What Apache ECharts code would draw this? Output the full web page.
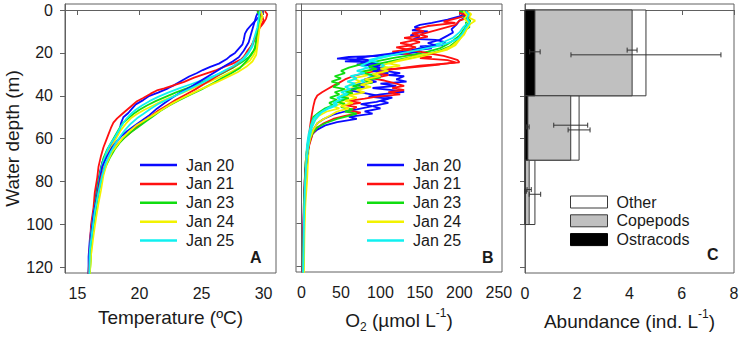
<!DOCTYPE html>
<html>
<head>
<meta charset="utf-8">
<script src="https://cdn.jsdelivr.net/npm/echarts@6/dist/echarts.min.js"></script>
<style>
  html, body { margin: 0; padding: 0; background: #fff; }
  #chart { width: 743px; height: 338px; }
</style>
</head>
<body>
<div id="chart"></div>
<script>
// dates shown in the legends of A and B
const dates = ['Jan 20', 'Jan 21', 'Jan 23', 'Jan 24', 'Jan 25']

// temperature profiles [temperature, depth], two casts per day
const tJan20a = [[29.9,0.5],[29.8,2],[29.5,4],[29.0,7],[28.7,9],[28.5,11],[28.4,14],[28.3,16],[28.0,18],[27.7,20],[27.3,21.5],[27.0,23],[26.4,25],[25.7,26.5],[25.1,28],[24.6,29.5],[24.0,31],[23.4,33],[22.8,35],[22.3,36.5],[21.5,38.5],[20.8,40],[20.3,42],[19.7,44],[19.4,46],[19.1,48],[18.7,50],[18.5,53],[18.4,56],[18.1,59],[17.7,63],[17.3,67],[17.0,71],[16.8,76],[16.6,82],[16.4,90],[16.2,98],[16.0,107],[15.9,115],[15.9,123]]
const tJan20b = [[29.6,0.5],[29.4,3],[29.2,7],[29.0,11],[28.8,15],[28.4,19],[28.0,22],[27.5,24],[26.9,26],[26.2,28.5],[25.5,31],[24.8,33.5],[24.1,36],[23.3,38.5],[22.6,41],[22.0,43.5],[21.4,46],[20.8,49],[20.2,51.5],[19.6,54],[19.0,56.5],[18.6,58.5],[18.2,61],[17.8,64],[17.4,68],[17.0,73],[16.8,79],[16.6,86],[16.3,95],[16.1,105],[15.95,115],[15.9,123]]
const tJan21a = [[30.1,0.5],[30.3,2],[30.2,4],[30.0,6],[29.6,9],[29.3,13],[29.0,17],[28.7,20],[28.2,23],[27.5,25],[26.8,26.5],[26.2,28],[25.4,29.5],[24.4,31.5],[23.6,33.5],[22.8,35],[22.0,36.5],[21.4,37.5],[20.9,39],[20.3,41],[19.8,42.5],[19.4,44.5],[19.0,46.5],[18.6,48.5],[18.2,50.5],[17.9,52.5],[17.7,55],[17.5,58],[17.3,61],[17.1,64],[16.9,68],[16.7,73],[16.6,78],[16.4,85],[16.3,92],[16.1,100],[16.0,110],[15.9,123]]
const tJan21b = [[29.5,0.5],[29.9,3],[30.0,5],[29.7,8],[29.4,12],[29.1,16],[28.7,19],[28.4,22],[28.0,24.5],[27.4,27],[26.6,29.5],[25.9,32],[25.2,34.5],[24.5,37],[23.7,39.5],[22.9,42],[22.2,44.5],[21.5,47],[20.9,49.5],[20.3,52],[19.7,55],[19.2,57.5],[18.8,59.5],[18.3,62],[17.9,65],[17.5,69],[17.2,73],[16.9,78],[16.7,84],[16.5,91],[16.3,99],[16.1,108],[16.0,116],[15.9,123]]
const tJan23a = [[29.6,0.5],[29.8,2],[29.7,5],[29.6,8],[29.5,12],[29.4,16],[29.2,19],[28.8,22],[28.2,24.5],[27.5,27],[26.7,29.5],[25.8,32],[24.9,34],[23.8,36.5],[22.9,38.5],[22.1,40.5],[21.3,42.5],[20.6,44.5],[20.0,46.5],[19.5,48.5],[19.1,50.5],[18.7,52.5],[18.4,55],[18.1,58],[17.8,61],[17.4,65],[17.1,69],[16.9,74],[16.7,80],[16.5,88],[16.3,96],[16.1,105],[16.0,114],[15.95,123]]
const tJan23b = [[29.5,0.5],[29.7,3],[29.6,6],[29.5,10],[29.4,14],[29.3,18],[29.0,21],[28.6,24],[28.1,27],[27.4,29.5],[26.6,32],[25.8,34.5],[25.0,37],[24.1,39.5],[23.2,42],[22.4,44.5],[21.7,47],[21.1,49.5],[20.5,52],[19.9,54.5],[19.3,57],[18.8,59.5],[18.4,62],[18.0,65],[17.6,69],[17.2,74],[16.9,80],[16.6,88],[16.4,96],[16.2,104],[16.1,112],[16.0,123]]
const tJan24a = [[29.7,0.5],[29.8,3],[29.6,6],[29.6,10],[29.5,14],[29.4,18],[29.2,21],[28.9,23.5],[28.3,26],[27.5,28.5],[26.6,31],[25.6,33.5],[24.5,36],[23.5,38.5],[22.6,40.5],[21.8,42.5],[21.1,44.5],[20.4,46.5],[19.8,48.5],[19.3,50.5],[18.9,53],[18.5,56],[18.2,59],[17.9,62],[17.5,66],[17.2,70],[16.9,76],[16.8,82],[16.6,90],[16.4,97],[16.2,105],[16.1,114],[16.0,123]]
const tJan24b = [[29.8,0.5],[29.9,3],[29.7,7],[29.6,12],[29.5,17],[29.4,21],[29.1,24],[28.6,26.5],[27.9,29],[27.0,31.5],[26.1,34],[25.1,36.5],[24.2,39],[23.3,41.5],[22.5,44],[21.8,46.5],[21.1,49],[20.4,51.5],[19.7,54],[19.1,57],[18.6,60],[18.2,63],[17.8,66],[17.4,71],[17.1,77],[16.9,84],[16.7,90],[16.5,97],[16.3,105],[16.1,114],[16.0,123]]
const tJan25a = [[29.6,0.5],[29.9,3],[29.7,6],[29.5,9],[29.3,13],[29.1,17],[28.8,20],[28.4,23],[27.8,25.5],[27.0,28],[26.1,30.5],[25.2,32.5],[24.2,34.5],[23.2,36.5],[22.3,38.5],[21.5,40.5],[20.8,42.5],[20.2,44.5],[19.7,46.5],[19.3,48.5],[18.9,51],[18.6,53.5],[18.3,56.5],[18.0,59.5],[17.6,63],[17.3,67],[17.0,72],[16.8,78],[16.6,86],[16.3,95],[16.1,104],[16.0,113],[15.9,123]]
const tJan25b = [[29.7,0.5],[29.6,4],[29.5,8],[29.3,12],[29.1,16],[28.8,19.5],[28.3,23],[27.6,26],[26.8,28.5],[26.0,31],[25.2,33.5],[24.3,36],[23.4,38.5],[22.5,41],[21.6,43.5],[20.9,46],[20.3,48.5],[19.8,50.5],[19.3,53],[18.9,55.5],[18.5,58.5],[18.1,62],[17.7,66],[17.3,71],[17.0,77],[16.7,85],[16.4,94],[16.2,103],[16.0,112],[15.95,123]]

// oxygen profiles [O2, depth]
const oJan20a = [[205,0.5],[208,1.5],[200,3],[185,4.5],[165,6],[150,7],[143,8],[150,8.5],[140,9.5],[160,10],[145,10.8],[138,12],[150,12.5],[142,13.5],[170,14],[182,15],[178,16.5],[150,17],[165,18],[140,19],[150,19.5],[130,20.5],[100,21.5],[60,22],[45,22.8],[80,23.2],[55,24],[95,24.5],[70,25.5],[100,26],[85,27],[115,27.5],[105,28.5],[125,29.5],[110,30.5],[130,31],[120,32.5],[133,33.5],[100,34.5],[120,35.5],[90,36.5],[115,37.5],[130,38.3],[100,39.5],[85,40.5],[110,41.5],[95,43],[75,44],[90,45],[70,46.5],[55,47.5],[40,49],[28,51],[20,53],[15,56],[11,60],[8,65],[6,70],[4,80],[3,90],[2.5,100],[2,110],[1.5,123]]
const oJan20b = [[210,0.5],[205,2],[208,3.5],[200,5],[196,7],[190,9],[192,10.5],[185,12],[175,14],[160,15.5],[170,16.5],[150,18],[130,19.5],[110,20.5],[90,21.5],[70,22.5],[85,23.5],[75,24.5],[100,25.5],[85,26.5],[105,27.5],[90,28.5],[110,29.5],[95,31],[80,32.5],[95,33.5],[70,35],[80,36],[60,37.5],[75,38.5],[95,40],[115,41],[100,42.5],[110,43.5],[90,45],[100,46],[80,47.5],[90,48.5],[60,50],[70,51],[45,52.5],[30,54],[20,56],[14,58],[10,62],[7,68],[5,75],[4,85],[3,95],[2.5,105],[2,115],[2,123]]
const oJan21a = [[205,0.5],[200,1.5],[210,2.5],[195,4],[180,5.5],[195,6],[160,7.5],[145,9],[155,10],[140,11],[150,12],[130,13],[145,14],[125,15.5],[140,16.5],[120,17.5],[135,18.5],[115,19.5],[140,21],[165,22],[150,22.5],[185,23.5],[195,24.5],[175,25.5],[150,26.5],[120,27.5],[95,28.5],[80,29.5],[65,31],[55,32.5],[48,34],[40,35.5],[33,37],[26,38.5],[20,40],[17,42],[15,45],[13,49],[11,54],[9,60],[7,65],[5,72],[4,80],[3,90],[2.5,100],[2,110],[1.5,123]]
const oJan21b = [[210,0.5],[205,2],[212,3.5],[200,5],[195,7],[180,8.5],[165,10],[150,11.5],[160,12.5],[140,14],[150,15],[135,16.5],[145,17.5],[130,18.5],[150,19.5],[165,20.5],[180,21.5],[190,22.5],[198,23.5],[200,24.5],[185,25],[150,26],[130,27],[110,28],[95,29.5],[110,30.5],[90,32],[105,33],[120,34.5],[130,35.5],[115,36.5],[130,37.5],[110,38.5],[125,39.5],[95,40.5],[80,41.5],[60,42.5],[75,43.5],[55,44.5],[70,45.5],[60,47],[75,48],[55,49.5],[40,51],[28,53],[20,55],[14,58],[10,63],[7,68],[5,75],[4,85],[3,95],[2.5,105],[2,115],[1.5,123]]
const oJan23a = [[200,0.5],[210,1.5],[205,3],[212,4.5],[208,6],[213,8],[205,10],[200,12],[193,14],[185,16],[175,18],[160,19.5],[140,21],[115,22.5],[95,24],[75,25.5],[60,27],[50,28.5],[55,29.5],[42,31],[50,32],[38,33.5],[48,34.5],[40,36],[55,37],[42,38.5],[48,39.5],[36,41],[45,42],[35,43.5],[40,44.5],[30,46],[22,48],[15,50],[12,54],[10,58],[8,62],[6,68],[4.5,75],[4,85],[3.5,95],[3,105],[2.5,115],[2,123]]
const oJan23b = [[205,0.5],[212,2],[208,3.5],[214,5],[210,7],[205,9.5],[200,12.5],[195,15],[188,17],[175,19],[160,20.5],[140,22],[120,23.5],[100,25],[85,26.5],[95,27.5],[75,29],[85,30],[100,31.5],[80,33],[90,34],[65,35.5],[75,36.5],[55,38],[65,39],[50,40.5],[60,41.5],[45,43],[55,44],[50,45.5],[65,46.5],[55,47.5],[70,48.5],[60,49.5],[45,51],[30,53],[20,55],[15,57],[11,60],[8,65],[6,72],[4.5,80],[3.5,90],[3,100],[2.5,110],[2,123]]
const oJan24a = [[210,0.5],[215,2],[212,3.5],[220,5],[214,6.5],[210,8.5],[206,11],[200,14],[195,16.5],[185,18.5],[170,20],[155,21.5],[135,23],[115,24.5],[100,26],[110,27],[90,28],[75,29.5],[85,30.5],[65,32],[75,33.5],[60,35],[70,36],[55,37.5],[65,38.5],[50,40],[60,41],[45,42.5],[55,43.5],[40,45],[48,46],[32,47.5],[22,49.5],[16,52],[12,56],[10,61],[9,66],[8,72],[7,80],[5,90],[4,100],[3.5,110],[3,123]]
const oJan24b = [[205,0.5],[210,2.5],[206,4],[212,6],[210,8.5],[206,11.5],[198,14.5],[190,17],[178,19],[160,20.5],[140,22],[125,23.5],[110,25],[125,26],[100,27.5],[110,28.5],[90,30],[100,31],[80,32.5],[90,33.5],[75,35],[88,36],[70,37.5],[80,38.5],[60,40],[70,41],[55,42.5],[65,43.5],[50,45],[60,46],[45,47.5],[38,49],[28,51],[20,53],[15,56],[11,60],[8,65],[6,70],[5,80],[4,90],[3.5,100],[3,110],[2.5,123]]
const oJan25a = [[205,0.5],[210,2],[207,4],[212,5.5],[205,8],[200,10.5],[192,13],[180,15],[165,16.5],[150,18],[130,19.5],[110,21],[95,22.5],[85,23.5],[95,24.5],[105,26],[100,27],[108,28],[95,29.5],[85,30.5],[90,31.5],[75,33],[80,34],[65,35.5],[70,36.5],[55,38],[60,39],[48,40.5],[55,41.5],[42,43],[45,44],[35,45.5],[28,47],[20,49],[15,51],[12,54],[9,58],[7,63],[5.5,70],[4.5,80],[3.5,90],[3,100],[2.5,110],[2,123]]
const oJan25b = [[208,0.5],[212,2],[210,4],[213,6],[208,8.5],[204,11],[198,13.5],[185,15.5],[170,17],[150,18.5],[130,20],[112,21.5],[95,23],[85,24.5],[75,26],[85,27],[70,28.5],[80,29.5],[62,31],[70,32],[58,33.5],[68,34.5],[55,36],[62,37],[50,38.5],[58,39.5],[45,41],[50,42],[40,43.5],[45,44.5],[35,46],[25,48],[18,51],[13,55],[10,60],[8,65],[6,72],[4.5,82],[3.5,92],[3,102],[2.5,112],[2,123]]

// zooplankton abundance by depth layer (ind. L-1)
const binTop = [0, 40, 70]
const binBottom = [40, 70, 100]
const ostracods = [0.38, 0.11, 0.02]
const copepods = [3.72, 1.64, 0.14]
const other = [0.53, 0.32, 0.22]
const ostracodsErr = [0.2, 0.05, 0.03]
const copepodsErr = [0.19, 0.65, 0.08]
const otherErr = [2.87, 0.42, 0.22]

const depthTicks = [0, 20, 40, 60, 80, 100, 120]
const tempTicks = [15, 20, 25, 30]
const oxyTicks = [0, 50, 100, 150, 200, 250]

const tempProfiles = [[tJan20a, tJan20b], [tJan21a, tJan21b], [tJan23a, tJan23b], [tJan24a, tJan24b], [tJan25a, tJan25b]]
const oxyProfiles = [[oJan20a, oJan20b], [oJan21a, oJan21b], [oJan23a, oJan23b], [oJan24a, oJan24b], [oJan25a, oJan25b]]

const lineColors = ['#0a0aff', '#ff1010', '#10dd10', '#f2f200', '#10f0f0']
const font = 'Liberation Sans, Arial, sans-serif'
const frame = '#606060'
const ink = '#1a1a1a'

const chart = echarts.init(document.getElementById('chart'), null, { renderer: 'svg' })

function lineSeries(profiles, axis) {
    const out = []
    for (let k = 0; k < 2; k++) {
        profiles.forEach((p, i) => {
            out.push({
                name: dates[i],
                type: 'line',
                xAxisIndex: axis,
                yAxisIndex: axis,
                data: p[k],
                showSymbol: false,
                symbol: 'none',
                lineStyle: { width: 1.8, color: lineColors[i] },
                itemStyle: { color: lineColors[i] },
                silent: true,
                z: 2
            })
        })
    }
    return out
}

function barItem(fill) {
    return (params, api) => {
        const a = api.coord([api.value(2), api.value(0)])
        const b = api.coord([api.value(3), api.value(1)])
        return {
            type: 'rect',
            shape: { x: a[0], y: a[1], width: b[0] - a[0], height: b[1] - a[1] },
            style: { fill: fill, stroke: '#3a3a3a', lineWidth: 1 }
        }
    }
}

// stacked rectangles per layer: [top, bottom, start, end]
const otherRects = binTop.map((t, i) => [t, binBottom[i], 0, ostracods[i] + copepods[i] + other[i]])
const copepodRects = binTop.map((t, i) => [t, binBottom[i], 0, ostracods[i] + copepods[i]])
const ostracodRects = binTop.map((t, i) => [t, binBottom[i], 0, ostracods[i]])

// error bars: [depth, centre, half width]
const errRows = []
binTop.forEach((t, i) => {
    const mid = (t + binBottom[i]) / 2
    errRows.push([mid - 0.5, ostracods[i], ostracodsErr[i]])
    errRows.push([mid - 1.3, ostracods[i] + copepods[i], copepodsErr[i]])
    errRows.push([mid + 0.9, ostracods[i] + copepods[i] + other[i], otherErr[i]])
})

function errItem(params, api) {
    const y = api.coord([0, api.value(0)])[1]
    const x1 = api.coord([api.value(1) - api.value(2), 0])[0]
    const x2 = api.coord([api.value(1) + api.value(2), 0])[0]
    const st = { stroke: '#333', lineWidth: 1 }
    return {
        type: 'group',
        children: [
            { type: 'line', shape: { x1: x1, y1: y, x2: x2, y2: y }, style: st },
            { type: 'line', shape: { x1: x1, y1: y - 2.5, x2: x1, y2: y + 2.5 }, style: st },
            { type: 'line', shape: { x1: x2, y1: y - 2.5, x2: x2, y2: y + 2.5 }, style: st }
        ]
    }
}

const tickLabel = { fontSize: 16, color: ink, fontFamily: font }
const nameStyle = { fontSize: 19, color: ink, fontFamily: font }

function yAxis(grid, withLabels) {
    return {
        type: 'value',
        gridIndex: grid,
        inverse: true,
        min: -2.8,
        max: 122.6,
        name: withLabels ? 'Water depth (m)' : '',
        nameLocation: 'middle',
        nameGap: 42,
        nameTextStyle: nameStyle,
        axisLine: { show: true, lineStyle: { color: frame } },
        axisTick: { show: true, length: 5, customValues: depthTicks, lineStyle: { color: frame } },
        axisLabel: { show: withLabels, margin: 12, customValues: depthTicks, ...tickLabel },
        splitLine: { show: false }
    }
}

function xAxis(grid, min, max, ticks, name, rich) {
    const ax = {
        type: 'value',
        gridIndex: grid,
        min: min,
        max: max,
        name: name,
        nameLocation: 'middle',
        nameGap: 35,
        nameTextStyle: { ...nameStyle, rich: rich },
        axisLine: { show: true, lineStyle: { color: frame } },
        axisTick: { show: true, length: 5, lineStyle: { color: frame } },
        axisLabel: { margin: 12, ...tickLabel },
        splitLine: { show: false }
    }
    if (ticks) {
        ax.axisTick.customValues = ticks
        ax.axisLabel.customValues = ticks
    } else {
        ax.interval = 2
    }
    return ax
}

const unitRich = {
    n: { fontSize: 19, lineHeight: 26, fontFamily: font, color: ink },
    s: { fontSize: 12, lineHeight: 26, verticalAlign: 'bottom', fontFamily: font, color: ink },
    p: { fontSize: 12, lineHeight: 26, verticalAlign: 'top', fontFamily: font, color: ink }
}

const lineLegend = (left) => ({
    left: left,
    top: 157,
    padding: 0,
    orient: 'vertical',
    data: dates,
    icon: 'rect',
    itemWidth: 37,
    itemHeight: 2.5,
    itemGap: 2.9,
    selectedMode: false,
    textStyle: { fontSize: 16, color: ink, fontFamily: font, lineHeight: 16, padding: [0, 0, 0, 4] }
})

chart.setOption({
    animation: false,
    grid: [
        { left: 65, top: 4, width: 211, height: 269, show: true, borderColor: frame, borderWidth: 1, backgroundColor: 'transparent' },
        { left: 296, top: 4, width: 206, height: 269, show: true, borderColor: frame, borderWidth: 1, backgroundColor: 'transparent' },
        { left: 525, top: 4, width: 209, height: 269, show: true, borderColor: frame, borderWidth: 1, backgroundColor: 'transparent' }
    ],
    xAxis: [
        xAxis(0, 14, 31, tempTicks, 'Temperature (ºC)', unitRich),
        xAxis(1, -7, 254, oxyTicks, '{n|O}{s|2}{n| (µmol L}{p|-1}{n|)}', unitRich),
        xAxis(2, 0, 8, null, '{n|Abundance (ind. L}{p|-1}{n|)}', unitRich)
    ],
    yAxis: [yAxis(0, true), yAxis(1, false), yAxis(2, false)],
    legend: [
        lineLegend(140),
        lineLegend(367),
        {
            left: 570,
            top: 194,
            padding: 0,
            orient: 'vertical',
            icon: 'rect',
            itemWidth: 37,
            itemHeight: 12,
            itemGap: 2.8,
            selectedMode: false,
            textStyle: { fontSize: 16, color: ink, fontFamily: font, lineHeight: 16, padding: [0, 0, 0, 4] },
            data: [
                { name: 'Other', itemStyle: { color: '#ffffff', borderColor: '#3a3a3a', borderWidth: 1 } },
                { name: 'Copepods', itemStyle: { color: '#c0c0c0', borderColor: '#3a3a3a', borderWidth: 1 } },
                { name: 'Ostracods', itemStyle: { color: '#000000', borderColor: '#000000', borderWidth: 1 } }
            ]
        }
    ],
    graphic: [
        { type: 'text', left: 250, top: 249, style: { text: 'A', font: 'bold 16px ' + font, fill: ink } },
        { type: 'text', left: 482, top: 249, style: { text: 'B', font: 'bold 16px ' + font, fill: ink } },
        { type: 'text', left: 707, top: 246, style: { text: 'C', font: 'bold 16px ' + font, fill: ink } }
    ],
    series: [
        ...lineSeries(tempProfiles, 0),
        ...lineSeries(oxyProfiles, 1),
        { name: 'Other', type: 'custom', xAxisIndex: 2, yAxisIndex: 2, data: otherRects, encode: { x: [2, 3], y: [0, 1] }, renderItem: barItem('#ffffff'), itemStyle: { color: '#ffffff' }, silent: true, z: 2 },
        { name: 'Copepods', type: 'custom', xAxisIndex: 2, yAxisIndex: 2, data: copepodRects, encode: { x: [2, 3], y: [0, 1] }, renderItem: barItem('#c0c0c0'), itemStyle: { color: '#c0c0c0' }, silent: true, z: 3 },
        { name: 'Ostracods', type: 'custom', xAxisIndex: 2, yAxisIndex: 2, data: ostracodRects, encode: { x: [2, 3], y: [0, 1] }, renderItem: barItem('#000000'), itemStyle: { color: '#000000' }, silent: true, z: 4 },
        { name: 'errors', type: 'custom', xAxisIndex: 2, yAxisIndex: 2, data: errRows, encode: { x: 1, y: 0 }, renderItem: errItem, silent: true, z: 5 }
    ]
})
</script>
</body>
</html>
